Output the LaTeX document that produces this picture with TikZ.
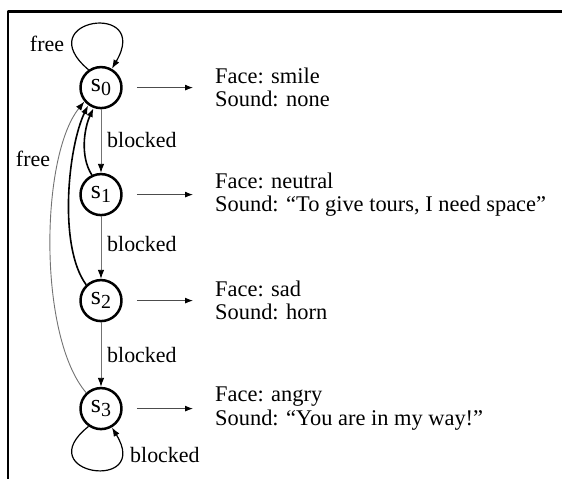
\documentclass[tikz,border=0pt]{standalone}
\usepackage{fontspec}
\setmainfont{Liberation Serif}
\usepackage{tikz}
\usetikzlibrary{arrows.meta}
\usetikzlibrary{calc}
\tikzset{state/.style={draw, circle, line width=2.5bp, minimum size=41bp, inner sep=0pt, font=\fontsize{26}{26}\selectfont},
  face/.style={anchor=west, align=left, inner sep=0pt, font=\fontsize{22.5}{23.5}\selectfont},
  lbl/.style={inner sep=0pt, font=\fontsize{22}{22}\selectfont},
  out edge/.style={-{Latex[length=8bp,width=6bp,color=black]}, draw=black!70, line width=1bp, shorten <=14bp, shorten >=22bp},
  down edge/.style={-{Latex[length=9bp,width=6.5bp,color=black]}, draw=black!55, line width=0.9bp},
  back edge/.style={-{Latex[length=9bp,width=6.5bp]}, draw=black, line width=1.6bp},
  free edge/.style={-{Latex[length=9bp,width=6.5bp,color=black]}, draw=black!55, line width=0.9bp},
  loop edge/.style={-{Latex[length=9bp,width=6.5bp]}, draw=black, line width=1.2bp}}
\newcommand{\stname}[1]{s\raisebox{-0.35ex}{\fontsize{20}{20}\selectfont #1}}

\begin{document}
\begin{tikzpicture}[line join=bevel]
%%
\begin{scope}
  \path[use as bounding box, fill=white] (0bp,0bp) rectangle (562bp,472bp);
  \draw[line width=2.5bp] (8bp,0bp) -- (8bp,467bp) -- (562bp,467bp);
\end{scope}
  \node (s_0) at (101bp,391bp) [state] {\stname{0}};
  \node (s_1) at (101bp,284bp) [state] {\stname{1}};
  \node (s_2) at (101bp,178bp) [state] {\stname{2}};
  \node (s_3) at (101bp,70bp) [state] {\stname{3}};
  \node (face_0) at (215bp,391bp) [face] {Face: smile\\Sound: none};
  \node (face_1) at (215bp,284bp) [face] {Face: neutral\\Sound: “To give tours, I need space”};
  \node (face_2) at (215bp,178bp) [face] {Face: sad\\Sound: horn};
  \node (face_3) at (215bp,70bp) [face] {Face: angry\\Sound: “You are in my way!”};
  \draw [out edge] (s_0) -- (face_0);
  \draw [out edge] (s_1) -- (face_1);
  \draw [out edge] (s_2) -- (face_2);
  \draw [out edge] (s_3) -- (face_3);
  \draw [down edge] (s_0) -- (s_1);
  \node (blk_01) at (107bp,339bp) [lbl,anchor=west] {blocked};
  \draw [down edge] (s_1) -- (s_2);
  \node (blk_12) at (107bp,235bp) [lbl,anchor=west] {blocked};
  \draw [down edge] (s_2) -- (s_3);
  \node (blk_23) at (107bp,124bp) [lbl,anchor=west] {blocked};
  \draw [loop edge] (s_0.125) ..controls (28bp,460bp) and (152bp,478bp) .. (s_0.60);
  \node (free_0) at (47bp,435bp) [lbl] {free};
  \draw [loop edge] (s_3.235) ..controls (28bp,4bp) and (152bp,-14bp) .. (s_3.-60);
  \node (blk_3) at (130bp,24bp) [lbl,anchor=west] {blocked};
  \draw [back edge] (s_1.115) ..controls (80bp,322bp) and (84bp,350bp) .. (s_0.250);
  \draw [back edge] (s_2.133) ..controls (58bp,232bp) and (68bp,332bp) .. (s_0.234);
  \draw [free edge] (s_3.133) ..controls (38bp,142bp) and (40bp,322bp) .. (s_0.220);
  \node (free_3) at (33bp,320bp) [lbl] {free};
%
\end{tikzpicture}
\end{document}
